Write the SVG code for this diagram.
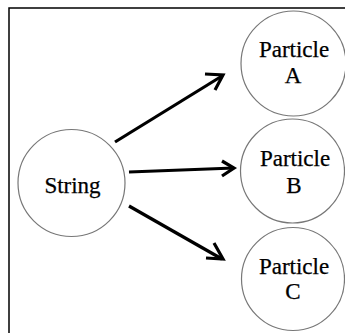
<svg xmlns="http://www.w3.org/2000/svg" width="345" height="333" viewBox="0 0 345 333">
<style>
.node circle{fill:#fff;stroke:#777;stroke-width:1.2}
.node text{font-family:"Liberation Serif","Times New Roman",serif;font-size:23px;fill:#000;text-anchor:middle;stroke:#000;stroke-width:0.25}
.conn line{stroke:#000;stroke-width:3.2}
.conn polyline{fill:none;stroke:#000;stroke-width:3.2;stroke-linecap:butt}
</style>
<rect x="9" y="8" width="345" height="340" fill="#fff" stroke="#000" stroke-width="1.5"/>
<g class="conn" id="connectors">
<line x1="115" y1="142" x2="222" y2="76"/>
<polyline points="205,74 223,75 215,90"/>
<line x1="129" y1="172" x2="234" y2="168"/>
<polyline points="222,161 234,168 222,176"/>
<line x1="129" y1="206" x2="222" y2="259"/>
<polyline points="214,243 223,259 206,258"/>
</g>
<g class="node" id="string">
<circle cx="71.5" cy="183" r="53.5"/>
<text x="72.5" y="193">String</text>
</g>
<g class="node" id="particleA">
<circle cx="293.5" cy="63.5" r="52.5"/>
<text x="294" y="57">Particle</text>
<text x="293" y="83">A</text>
</g>
<g class="node" id="particleB">
<circle cx="292.5" cy="171" r="52"/>
<text x="295" y="166">Particle</text>
<text x="294" y="193">B</text>
</g>
<g class="node" id="particleC">
<circle cx="293" cy="279" r="51.5"/>
<text x="294" y="274">Particle</text>
<text x="293" y="299">C</text>
</g>
</svg>
